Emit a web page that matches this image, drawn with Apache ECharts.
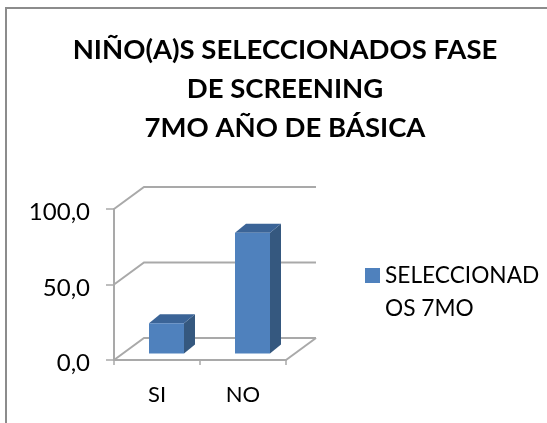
<!DOCTYPE html>
<html>
<head>
<meta charset="utf-8">
<style>html,body{margin:0;padding:0;background:#fff}#chart{width:547px;height:423px}</style>
<script src="https://cdn.jsdelivr.net/npm/echarts@6/dist/echarts.min.js"></script>
</head>
<body>
<div id="chart"></div>
<script>
// Chart content
const titleText = 'NIÑO(A)S SELECCIONADOS FASE\nDE SCREENING\n7MO AÑO DE BÁSICA';
const categories = ['SI', 'NO'];
const seriesName = 'SELECCIONADOS 7MO';
const seriesValues = [20, 80];
const yTicks = [0, 50, 100];

// Faux-3D projection, in pixels
const WALL_DX = 30, WALL_DY = -22;
const BAR_SHIFT_X = 9.5, BAR_SHIFT_Y = -6.5;
const BAR_W = 35, BAR_DX = 11, BAR_DY = -9;
const WALL = '#a9a9a9';

const chart = echarts.init(document.getElementById('chart'), null, { renderer: 'canvas' });

// Wall and floor: a bent line for each y tick, plus the floor's outline at zero
function renderWall(params, api) {
  const v = api.value(0);
  const [x0, y] = api.coord(['SI', v]);
  const left = params.coordSys.x, right = left + params.coordSys.width;
  const line = (pts) => ({
    type: 'polyline', shape: { points: pts },
    style: { stroke: WALL, lineWidth: 2, fill: null }, silent: true
  });
  const children = [line([[left, y], [left + WALL_DX, y + WALL_DY], [right + WALL_DX, y + WALL_DY]])];
  if (v === 0) {
    children.push(line([[right, y], [right + WALL_DX, y + WALL_DY]]));
  }
  return { type: 'group', children };
}

// Box with front, top and side faces
function renderBar(params, api) {
  const cat = api.value(0), val = api.value(1);
  const top = api.coord([cat, val]), base = api.coord([cat, 0]);
  const xl = top[0] - BAR_W / 2 + BAR_SHIFT_X, xr = xl + BAR_W;
  const yt = top[1] + BAR_SHIFT_Y, yb = base[1] + BAR_SHIFT_Y;
  const poly = (pts, fill) => ({ type: 'polygon', shape: { points: pts }, style: { fill } });
  return {
    type: 'group',
    children: [
      poly([[xr, yt], [xr + BAR_DX, yt + BAR_DY], [xr + BAR_DX, yb + BAR_DY], [xr, yb]], '#35587f'),
      poly([[xl, yt], [xl + BAR_DX, yt + BAR_DY], [xr + BAR_DX, yt + BAR_DY], [xr, yt]], '#3b6497'),
      { type: 'rect', shape: { x: xl, y: yt, width: BAR_W, height: yb - yt }, style: { fill: '#4f81bd' } }
    ]
  };
}

chart.setOption({
  animation: false,
  backgroundColor: '#fff',
  title: {
    text: titleText,
    left: 280, top: 26, textAlign: 'center',
    textStyle: { fontFamily: 'Lato', fontWeight: 'bold', fontSize: 27.5, lineHeight: 39, color: '#000' }
  },
  legend: {
    left: 360, top: 221, orient: 'vertical',
    data: [{ name: seriesName, icon: 'rect' }],
    itemWidth: 15, itemHeight: 15, itemGap: 0,
    // The empty first line keeps the swatch level with the first line of text
    formatter: () => '\nSELECCIONAD\nOS 7MO',
    textStyle: { fontFamily: 'Lato', fontSize: 22.7, lineHeight: 33, color: '#000' }
  },
  grid: { left: 114, top: 209, width: 172, height: 151 },
  xAxis: {
    type: 'category', data: categories,
    axisLine: { lineStyle: { color: WALL, width: 2 } },
    axisTick: { show: true, length: 5, alignWithLabel: false, lineStyle: { color: WALL, width: 1.5 } },
    axisLabel: { margin: 24, fontFamily: 'Lato', fontSize: 22, color: '#000' }
  },
  yAxis: {
    type: 'value', min: 0, max: 100, interval: 50,
    axisLine: { show: true, lineStyle: { color: WALL, width: 2 } },
    axisTick: { show: true, length: 8, lineStyle: { color: WALL, width: 1.5 } },
    splitLine: { show: false },
    axisLabel: { margin: 24, fontFamily: 'Lato', fontSize: 24, color: '#000', verticalAlign: 'top', lineHeight: 7, formatter: (v) => v.toFixed(1).replace('.', ',') }
  },
  series: [
    { type: 'custom', name: 'wall', coordinateSystem: 'cartesian2d', data: yTicks.map((v) => [v]),
      encode: { y: 0 }, renderItem: renderWall, silent: true, z: 1 },
    { type: 'custom', name: seriesName, coordinateSystem: 'cartesian2d',
      itemStyle: { color: '#4f81bd' },
      data: categories.map((c, i) => [c, seriesValues[i]]),
      encode: { x: 0, y: 1 }, renderItem: renderBar, z: 3 }
  ],
  graphic: [
    // Chart frame along the top and left edges
    { type: 'polyline', shape: { points: [[547, 8], [6, 8], [6, 423]] }, style: { stroke: '#8c8c8c', lineWidth: 2, fill: null }, silent: true }
  ]
});
</script>
</body>
</html>
